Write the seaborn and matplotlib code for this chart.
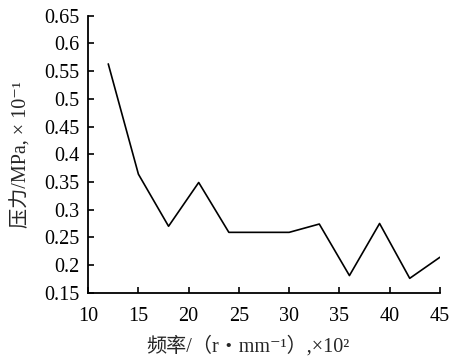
import matplotlib
matplotlib.use("Agg")
import matplotlib.pyplot as plt
import seaborn as sns
import pandas as pd

freq = [12, 15, 18, 21, 24, 27, 30, 33, 36, 39, 42, 45]
pressure = [0.563, 0.364, 0.270, 0.349, 0.259, 0.259, 0.259, 0.274, 0.181, 0.275, 0.176, 0.214]
xticks = [10, 15, 20, 25, 30, 35, 40, 45]
yticks = [0.15, 0.2, 0.25, 0.3, 0.35, 0.4, 0.45, 0.5, 0.55, 0.6, 0.65]
ytick_labels = ["0.15", "0.2", "0.25", "0.3", "0.35", "0.4", "0.45", "0.5", "0.55", "0.6", "0.65"]
xlabel = "频率/（r・mm⁻¹）,×10²"
ylabel = "压力/MPa, × 10⁻¹"

sns.set_style("ticks")
plt.rcParams["font.family"] = ["Liberation Serif", "Noto Sans CJK SC", "DejaVu Sans"]
plt.rcParams["xtick.direction"] = "in"
plt.rcParams["ytick.direction"] = "in"

df = pd.DataFrame({"freq": freq, "pressure": pressure})

fig = plt.figure(figsize=(4.64, 3.57), dpi=100)
ax = fig.add_axes([0.19, 0.18, 0.758, 0.776])
sns.lineplot(data=df, x="freq", y="pressure", ax=ax, color="black", linewidth=1.2)

ax.set_xlim(10, 45)
ax.set_ylim(0.15, 0.65)
ax.set_xticks(xticks)
ax.set_xticklabels([str(t) for t in xticks])
ax.set_yticks(yticks)
ax.set_yticklabels(ytick_labels)
ax.tick_params(axis="both", labelsize=14.5, length=4, width=1.2, colors="black")
ax.tick_params(axis="x", pad=10)
ax.tick_params(axis="y", pad=6)
for s in ["top", "right"]:
    ax.spines[s].set_visible(False)
for s in ["left", "bottom"]:
    ax.spines[s].set_linewidth(1.3)
    ax.spines[s].set_color("black")
ax.set_xlabel(xlabel, fontsize=14.5)
ax.xaxis.set_label_coords(0.455, -0.155)
ax.set_ylabel(ylabel, fontsize=14.5)
ax.yaxis.set_label_coords(-0.16, 0.5)

fig.savefig("out.png", dpi=100)
